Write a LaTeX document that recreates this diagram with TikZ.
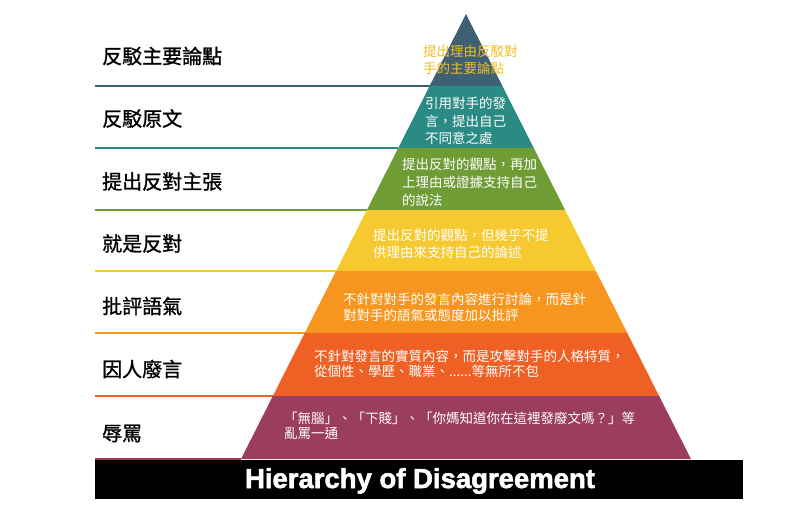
\documentclass[tikz,border=0pt]{standalone}
\usepackage{fontspec}
\newfontfamily\cjk[Script=CJK,Language=Chinese Traditional]{Noto Sans CJK TC}
\newfontfamily\cjkm[Script=CJK,Language=Chinese Traditional,FakeBold=1.2]{Noto Sans CJK TC}
\newfontfamily\titlefont[BoldFeatures={FakeBold=2}]{Liberation Sans}
\usetikzlibrary{positioning}
\definecolor{lvA}{HTML}{3F6074}
\definecolor{lvB}{HTML}{2A8A84}
\definecolor{lvC}{HTML}{6F9C35}
\definecolor{lvD}{HTML}{F6C931}
\definecolor{lvE}{HTML}{F6961E}
\definecolor{lvF}{HTML}{EF6024}
\definecolor{lvG}{HTML}{9B3E5D}
\definecolor{topText}{HTML}{F0BE1E}

\begin{document}
\begin{tikzpicture}[x=1pt,y=-1pt, declare function={xl(\y)=466-(\y-14)*0.5056; xr(\y)=466+(\y-14)*0.5056;}, lab/.style={anchor=west,inner sep=0pt,font={\cjkm\fontsize{20}{24}\selectfont}}, txt/.style={anchor=west,inner sep=0pt,align=left,text=white}]
\useasboundingbox (0,0) rectangle (800,526);
\foreach \ya/\yb/\c in {14/86/lvA,86/148/lvB,148/210/lvC,210/271/lvD,271/333/lvE,333/396/lvF,396/459/lvG}{
  \fill[\c] ({xl(\ya)},\ya) -- ({xr(\ya)},\ya) -- ({xr(\yb)},\yb) -- ({xl(\yb)},\yb) -- cycle;
  \draw[\c,line width=2pt] (95,\yb) -- ({xl(\yb)},\yb);
}
\fill[black] (95,460) rectangle (743,499);
\node[anchor=base,inner sep=0pt,text=white,font={\titlefont\bfseries\fontsize{27.5}{30}\selectfont}] (title) at (420,488) {Hierarchy of Disagreement};

\node[lab] (labA) at (102,56) {反駁主要論點};
\node[lab] (labB) at (102,118.5) {反駁原文};
\node[lab] (labC) at (102,181.5) {提出反對主張};
\node[lab] (labD) at (102,243.5) {就是反對};
\node[lab] (labE) at (102,306) {批評語氣};
\node[lab] (labF) at (102,369) {因人廢言};
\node[lab] (labG) at (102,433.5) {辱罵};

\node[txt,text=topText,font={\cjk\fontsize{13.5}{16.7}\selectfont}] (descA) at (423,60) {提出理由反駁對\\手的主要論點};
\node[txt,font={\cjk\fontsize{13.5}{17.5}\selectfont}] (descB) at (425,121) {引用對手的發\\言，提出自己\\不同意之處};
\node[txt,font={\cjk\fontsize{13.5}{18.3}\selectfont}] (descC) at (402,182.5) {提出反對的觀點，再加\\上理由或證據支持自己\\的說法};
\node[txt,font={\cjk\fontsize{13.5}{16.7}\selectfont}] (descD) at (373,243.8) {提出反對的觀點，但幾乎不提\\供理由來支持自己的論述};
\node[txt,font={\cjk\fontsize{13.5}{15.5}\selectfont}] (descE) at (343,307.5) {不針對對手的發言內容進行討論，而是針\\對對手的語氣或態度加以批評};
\node[txt,font={\cjk\fontsize{13.5}{15.7}\selectfont}] (descF) at (314,363.7) {不針對發言的實質內容，而是攻擊對手的人格特質，\\從個性、學歷、職業、......等無所不包};
\node[txt,font={\cjk\fontsize{13.5}{14.8}\selectfont}] (descG) at (284,425.8) {「無腦」、「下賤」、「你媽知道你在這裡發廢文嗎？」等\\亂罵一通};
\end{tikzpicture}
\end{document}
